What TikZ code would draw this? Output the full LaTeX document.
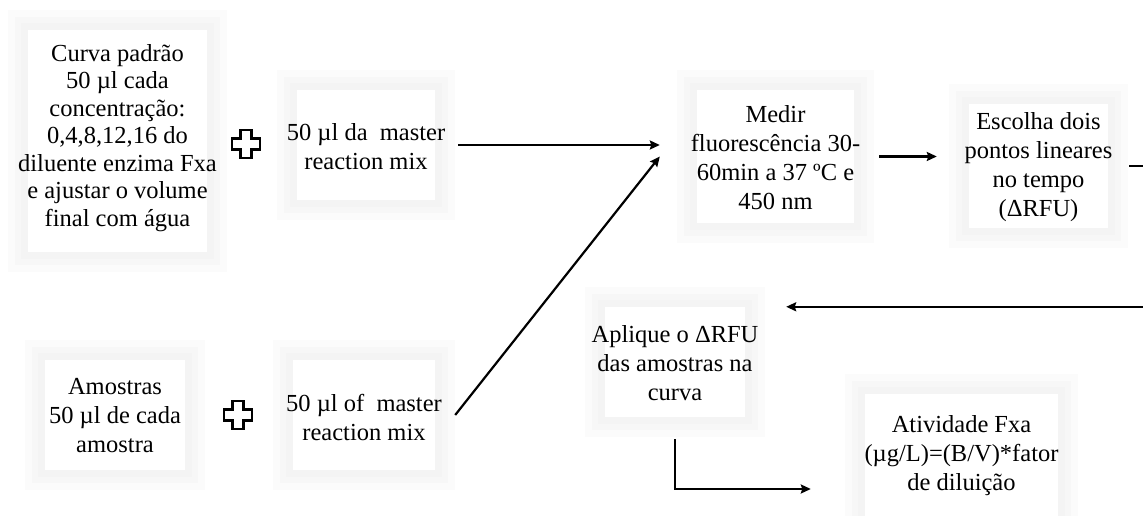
\documentclass[tikz,border=0pt]{standalone}
\usepackage{fontspec}
\setmainfont{Liberation Serif}
\usetikzlibrary{arrows.meta,calc}

\tikzset{
  card/.style={rectangle, fill=white, inner sep=0pt, line join=miter,
    preaction={draw=black!1.5, line width=40pt},
    preaction={draw=black!3, line width=26pt},
    preaction={draw=black!4.5, line width=14pt}},
  lbl/.style={align=center, inner sep=0pt, text=black,
    font=\fontsize{24.5}{29}\selectfont},
  arr/.style={-{Stealth[length=10pt,width=9pt,inset=1.5pt]}, line width=2.2pt, black},
  pics/crossmark/.style={code={
    \draw[line width=2.6pt, fill=white, line join=miter]
      (-5.5,14) -- (5.5,14) -- (5.5,5.5) -- (14,5.5) -- (14,-5.5) -- (5.5,-5.5) -- (5.5,-14)
      -- (-5.5,-14) -- (-5.5,-5.5) -- (-14,-5.5) -- (-14,5.5) -- (-5.5,5.5) -- cycle;}}
}

\begin{document}
\begin{tikzpicture}[x=1pt, y=1pt]
  \clip (0,0) rectangle (1143,516);
  \fill[white] (0,0) rectangle (1143,516);

  % white cards with a soft grey rim
  \node[card, minimum width=179pt, minimum height=222pt] (curva) at (117.5,375) {};
  \node[card, minimum width=138pt, minimum height=110pt] (mixA)  at (366,371) {};
  \node[card, minimum width=157pt, minimum height=133pt] (medir) at (775.5,359.5) {};
  \node[card, minimum width=139pt, minimum height=124pt] (esc)   at (1038.5,350) {};
  \node[card, minimum width=140pt, minimum height=110pt] (apl)   at (675,154) {};
  \node[card, minimum width=193pt, minimum height=124pt] (ativ)  at (961.5,60) {};
  \node[card, minimum width=140pt, minimum height=110pt] (amo)   at (115,101) {};
  \node[card, minimum width=142pt, minimum height=110pt] (mixB)  at (364,101) {};

  % texts on the cards
  \node[lbl, font=\fontsize{24.5}{27.5}\selectfont] (curvaT) at ([yshift=3]curva.center)
    {Curva padrão\\50 µl cada\\concentração:\\0,4,8,12,16 do\\diluente enzima Fxa\\e ajustar o volume\\final com água};
  \node[lbl] (mixAT) at ([yshift=-2]mixA.center) {50 µl da\ \ master\\reaction mix};
  \node[lbl] (medirT) at ([yshift=-1]medir.center) {Medir\\fluorescência 30-\\60min a 37 ºC e\\450 nm};
  \node[lbl] (escT) at ([yshift=-1]esc.center) {Escolha dois\\pontos lineares\\no tempo\\(ΔRFU)};
  \node[lbl] (aplT) at ([yshift=-1]apl.center) {Aplique o ΔRFU\\das amostras na\\curva};
  \node[lbl] (ativT) at (ativ.center) {Atividade Fxa\\(µg/L)=(B/V)*fator\\de diluição};
  \node[lbl] (amoT) at ([yshift=-1]amo.center) {Amostras\\50 µl de cada\\amostra};
  \node[lbl] (mixBT) at ([yshift=-2]mixB.center) {50 µl of\ \ master\\reaction mix};

  % plus signs between the reagents
  \pic at (246,372) {crossmark};
  \pic at (238,101) {crossmark};

  % connectors
  \draw[arr, shorten <=23pt, shorten >=37pt] (mixA.east) -- (mixA.east -| medir.west);
  \coordinate (diagA) at ([xshift=20]mixB.east);
  \coordinate (diagB) at ([xshift=-37]medir.west);
  \draw[arr] (diagA) -- (diagB);
  \draw[arr, shorten <=25pt, shorten >=32pt] (medir.east) -- (medir.east -| esc.west);

  \coordinate (backA) at ([xshift=21]esc.east);
  \coordinate (backB) at ([xshift=41]apl.north east);
  \draw[arr] (backA) -- ++(40,0) |- (backB);

  \coordinate (downA) at ([yshift=-22]apl.south);
  \coordinate (downB) at ([xshift=-54,yshift=-33]ativ.west);
  \draw[arr] (downA) |- (downB);
\end{tikzpicture}
\end{document}
